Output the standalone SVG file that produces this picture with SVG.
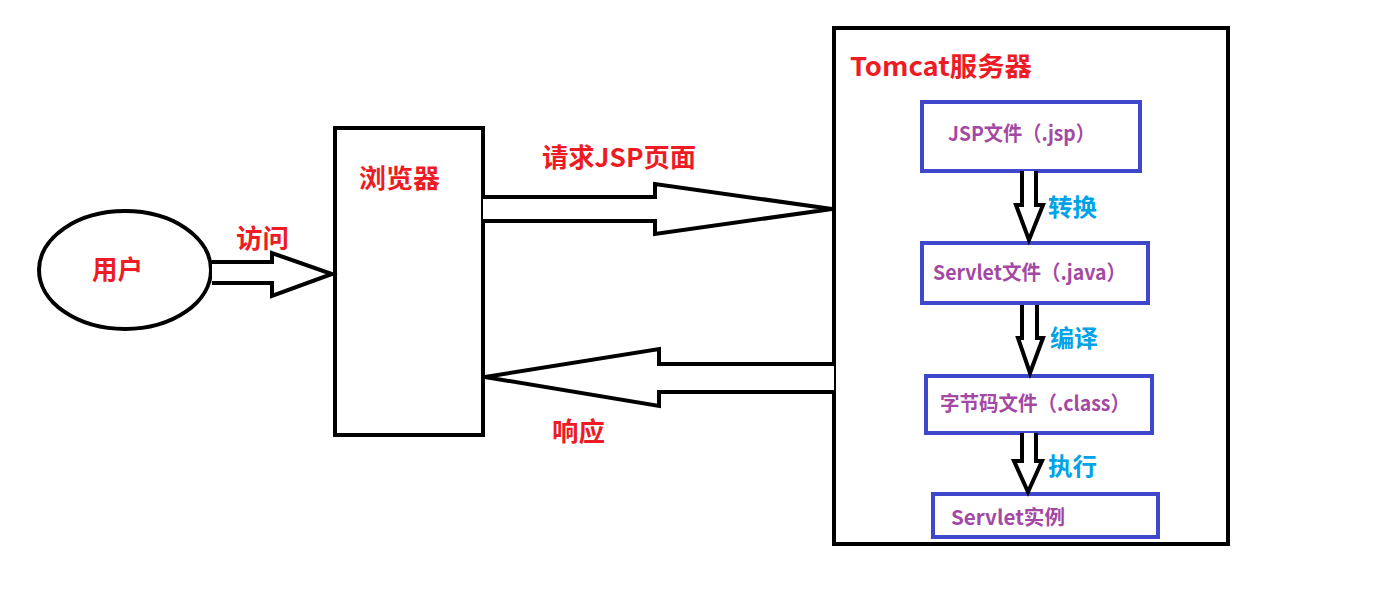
<svg xmlns="http://www.w3.org/2000/svg" width="1374" height="597" viewBox="0 0 1374 597">
<style>
.blk{fill:none;stroke:#000;stroke-width:4}
.arr{fill:#fff;stroke:#000;stroke-width:4;stroke-linejoin:miter}
.box{fill:#fff;stroke:#3f48cc;stroke-width:4}
.t{font-family:"Noto Sans CJK SC","Microsoft YaHei",sans-serif;font-weight:bold}
.red{fill:#ed1c24;font-size:26px}
.pur{fill:#a349a4;font-size:20.5px}
.blu{fill:#00a2e8;font-size:24px}
</style>
<rect width="1374" height="597" fill="#fff"/>
<g id="user">
<ellipse cx="125" cy="270" rx="86" ry="59" class="blk"/>
<text x="92" y="279" class="t red" textLength="51" lengthAdjust="spacingAndGlyphs">用户</text>
</g>
<g id="browser">
<rect x="335" y="128" width="148" height="307" class="blk" stroke-width="3"/>
<text x="359" y="188" class="t red" textLength="81" lengthAdjust="spacingAndGlyphs">浏览器</text>
</g>
<g id="tomcat">
<rect x="834" y="28" width="394" height="516" class="blk"/>
<text x="850" y="76" class="t red" font-size="29" textLength="182" lengthAdjust="spacingAndGlyphs">Tomcat服务器</text>
</g>
<g id="jsp">
<rect x="922" y="102" width="218" height="69" class="box"/>
<text x="948" y="141" class="t pur" textLength="147" lengthAdjust="spacingAndGlyphs">JSP文件（.jsp）</text>
</g>
<g id="servlet-java">
<rect x="922" y="243" width="226" height="60" class="box"/>
<text x="933" y="280" class="t pur" textLength="193" lengthAdjust="spacingAndGlyphs">Servlet文件（.java）</text>
</g>
<g id="class">
<rect x="926" y="376" width="226" height="57" class="box"/>
<text x="940" y="411" class="t pur" textLength="190" lengthAdjust="spacingAndGlyphs">字节码文件（.class）</text>
</g>
<g id="instance">
<rect x="933" y="494" width="225" height="43" class="box"/>
<text x="951" y="525" class="t pur" textLength="114" lengthAdjust="spacingAndGlyphs">Servlet实例</text>
</g>
<g id="connectors">
<polyline class="arr" points="212,262 272,262 272,253 332,274 272,296 272,283 212,283"/>
<text x="236" y="248" class="t red" textLength="53" lengthAdjust="spacingAndGlyphs">访问</text>
<polyline class="arr" points="483,197 655,197 655,184 832,209 655,234 655,221 483,221"/>
<text x="542" y="167" class="t red" textLength="154" lengthAdjust="spacingAndGlyphs">请求JSP页面</text>
<polyline class="arr" points="834,364 659,364 659,349 485,377 659,406 659,392 834,392"/>
<text x="552" y="441" class="t red" textLength="53" lengthAdjust="spacingAndGlyphs">响应</text>
<polyline class="arr" points="1022,171 1022,205 1016,205 1029,240 1043,205 1036,205 1036,171"/>
<text x="1048" y="216" class="t blu" textLength="49" lengthAdjust="spacingAndGlyphs">转换</text>
<polyline class="arr" points="1022,305 1022,338 1018,338 1030,373 1043,338 1037,338 1037,305"/>
<text x="1050" y="347" class="t blu" textLength="48" lengthAdjust="spacingAndGlyphs">编译</text>
<polyline class="arr" points="1022,433 1022,461 1014,461 1028,492 1042,461 1036,461 1036,433"/>
<text x="1048" y="475" class="t blu" textLength="49" lengthAdjust="spacingAndGlyphs">执行</text>
</g>
</svg>
